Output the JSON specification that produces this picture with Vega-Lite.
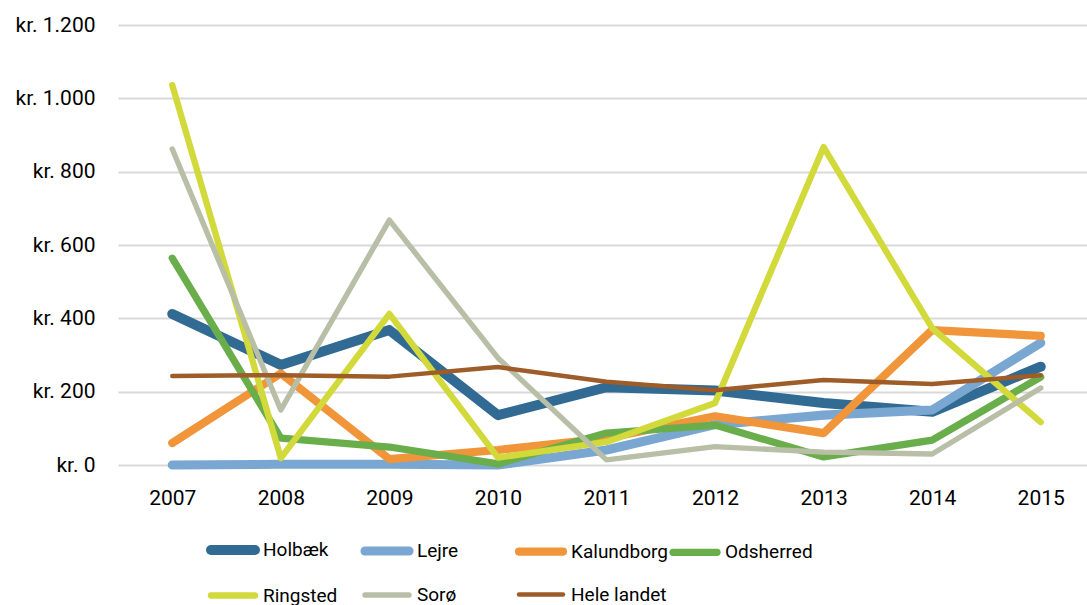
{
  "$schema": "https://vega.github.io/schema/vega-lite/v6.json",
  "autosize": {"type": "none"},
  "width": 977,
  "height": 440,
  "padding": {"left": 118, "top": 25, "right": 0, "bottom": 140},
  "background": "white",
  "config": {
    "view": {"stroke": null},
    "font": "Roboto"
  },
  "data": {
    "values": [
      {"year": "2007", "series": "Holbæk", "value": 412},
      {"year": "2008", "series": "Holbæk", "value": 273},
      {"year": "2009", "series": "Holbæk", "value": 368},
      {"year": "2010", "series": "Holbæk", "value": 136},
      {"year": "2011", "series": "Holbæk", "value": 212},
      {"year": "2012", "series": "Holbæk", "value": 203},
      {"year": "2013", "series": "Holbæk", "value": 169},
      {"year": "2014", "series": "Holbæk", "value": 145},
      {"year": "2015", "series": "Holbæk", "value": 268},
      {"year": "2007", "series": "Lejre", "value": 0},
      {"year": "2008", "series": "Lejre", "value": 2},
      {"year": "2009", "series": "Lejre", "value": 2},
      {"year": "2010", "series": "Lejre", "value": 0},
      {"year": "2011", "series": "Lejre", "value": 41},
      {"year": "2012", "series": "Lejre", "value": 110},
      {"year": "2013", "series": "Lejre", "value": 136},
      {"year": "2014", "series": "Lejre", "value": 150},
      {"year": "2015", "series": "Lejre", "value": 333},
      {"year": "2007", "series": "Kalundborg", "value": 60},
      {"year": "2008", "series": "Kalundborg", "value": 250},
      {"year": "2009", "series": "Kalundborg", "value": 16},
      {"year": "2010", "series": "Kalundborg", "value": 41},
      {"year": "2011", "series": "Kalundborg", "value": 73},
      {"year": "2012", "series": "Kalundborg", "value": 133},
      {"year": "2013", "series": "Kalundborg", "value": 87},
      {"year": "2014", "series": "Kalundborg", "value": 368},
      {"year": "2015", "series": "Kalundborg", "value": 352},
      {"year": "2007", "series": "Odsherred", "value": 564},
      {"year": "2008", "series": "Odsherred", "value": 73},
      {"year": "2009", "series": "Odsherred", "value": 49},
      {"year": "2010", "series": "Odsherred", "value": 3},
      {"year": "2011", "series": "Odsherred", "value": 87},
      {"year": "2012", "series": "Odsherred", "value": 109},
      {"year": "2013", "series": "Odsherred", "value": 22},
      {"year": "2014", "series": "Odsherred", "value": 68},
      {"year": "2015", "series": "Odsherred", "value": 240},
      {"year": "2007", "series": "Ringsted", "value": 1036},
      {"year": "2008", "series": "Ringsted", "value": 19},
      {"year": "2009", "series": "Ringsted", "value": 412},
      {"year": "2010", "series": "Ringsted", "value": 20},
      {"year": "2011", "series": "Ringsted", "value": 63},
      {"year": "2012", "series": "Ringsted", "value": 169},
      {"year": "2013", "series": "Ringsted", "value": 867},
      {"year": "2014", "series": "Ringsted", "value": 373},
      {"year": "2015", "series": "Ringsted", "value": 117},
      {"year": "2007", "series": "Sorø", "value": 862},
      {"year": "2008", "series": "Sorø", "value": 150},
      {"year": "2009", "series": "Sorø", "value": 668},
      {"year": "2010", "series": "Sorø", "value": 292},
      {"year": "2011", "series": "Sorø", "value": 14},
      {"year": "2012", "series": "Sorø", "value": 50},
      {"year": "2013", "series": "Sorø", "value": 35},
      {"year": "2014", "series": "Sorø", "value": 30},
      {"year": "2015", "series": "Sorø", "value": 210},
      {"year": "2007", "series": "Hele landet", "value": 243},
      {"year": "2008", "series": "Hele landet", "value": 245},
      {"year": "2009", "series": "Hele landet", "value": 241},
      {"year": "2010", "series": "Hele landet", "value": 267},
      {"year": "2011", "series": "Hele landet", "value": 227},
      {"year": "2012", "series": "Hele landet", "value": 204},
      {"year": "2013", "series": "Hele landet", "value": 232},
      {"year": "2014", "series": "Hele landet", "value": 221},
      {"year": "2015", "series": "Hele landet", "value": 245}
    ]
  },
  "mark": {"type": "line", "strokeCap": "round", "strokeJoin": "round"},
  "encoding": {
    "x": {
      "field": "year",
      "type": "ordinal",
      "scale": {"type": "point", "padding": 0.5},
      "axis": {
        "title": null,
        "labelAngle": 0,
        "domain": false,
        "ticks": false,
        "grid": false,
        "labelPadding": 22,
        "labelFontSize": 21,
        "labelColor": "#000000",
        "labelFont": "Roboto"
      }
    },
    "y": {
      "field": "value",
      "type": "quantitative",
      "scale": {"domain": [0, 1200], "nice": false},
      "axis": {
        "title": null,
        "values": [0, 200, 400, 600, 800, 1000, 1200],
        "labelExpr": "'kr. ' + replace(format(datum.value, ','), ',', '.')",
        "domain": false,
        "ticks": false,
        "labelPadding": 23,
        "labelFontSize": 21,
        "labelColor": "#000000",
        "labelFont": "Roboto",
        "gridColor": "#d9d9d9",
        "gridWidth": 2
      }
    },
    "color": {
      "field": "series",
      "type": "nominal",
      "sort": null,
      "scale": {
        "domain": ["Holbæk", "Lejre", "Kalundborg", "Odsherred", "Ringsted", "Sorø", "Hele landet"],
        "range": ["#316a92", "#79a7d1", "#f0953a", "#69ae4b", "#d2d93a", "#b9bea7", "#9d5c28"]
      },
      "legend": {
        "title": null,
        "orient": "none",
        "legendX": 88,
        "legendY": 498,
        "direction": "horizontal",
        "columns": 4,
        "gridAlign": "all",
        "symbolType": "stroke",
        "symbolSize": 1936,
        "symbolStrokeWidth": 4.5,
        "labelFontSize": 19,
        "labelFont": "Roboto",
        "labelColor": "#000000",
        "labelOffset": 3,
        "columnPadding": -15,
        "rowPadding": 0,
        "labelLimit": 200,
        "encode": {
          "symbols": {
            "update": {
              "strokeCap": {"value": "round"},
              "strokeWidth": {"signal": "datum.value === 'Holbæk' ? 7 : 4.5"}
            }
          }
        }
      }
    },
    "strokeWidth": {
      "field": "series",
      "type": "nominal",
      "sort": null,
      "scale": {
        "domain": ["Holbæk", "Lejre", "Kalundborg", "Odsherred", "Ringsted", "Sorø", "Hele landet"],
        "range": [10, 4.5, 4.5, 4.5, 4.5, 4.5, 5]
      },
      "legend": null
    }
  }
}
